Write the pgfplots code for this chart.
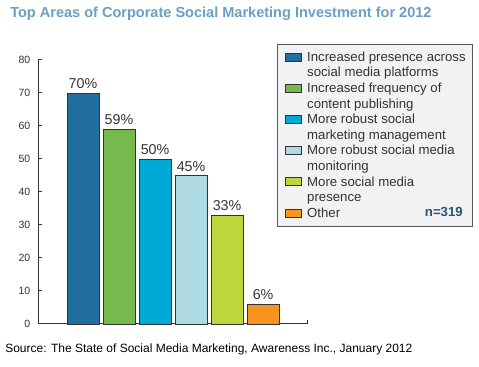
\documentclass[border=0pt]{standalone}
\usepackage{fontspec}
\setmainfont{Liberation Sans}
\usepackage{pgfplots}
\pgfplotsset{compat=1.18}
\definecolor{c1}{RGB}{35,110,160}
\definecolor{c2}{RGB}{120,185,78}
\definecolor{c3}{RGB}{0,170,214}
\definecolor{c4}{RGB}{174,219,227}
\definecolor{c5}{RGB}{190,214,58}
\definecolor{c6}{RGB}{247,148,29}
\definecolor{titleblue}{RGB}{108,158,196}
\definecolor{axgray}{RGB}{51,51,51}
\definecolor{legfill}{RGB}{242,242,244}
\definecolor{legborder}{RGB}{90,90,90}
\definecolor{nblue}{RGB}{43,85,115}
\pgfplotsset{
  mybar/.style={ybar, fill=#1, draw=axgray, line width=0.5pt, bar width=24pt, bar shift=0pt,
    legend image code/.code={\draw[fill=#1, draw=axgray, line width=0.5pt] (0pt,0.3pt) rectangle (12pt,6.3pt); \path (16.5pt,0pt);}},
}
\begin{document}
\begin{tikzpicture}
\useasboundingbox (0,0) rectangle (359.25pt,275.25pt);
\node[anchor=base west, font=\bfseries\fontsize{10.9}{13}\selectfont, text=titleblue, inner sep=0pt] at (7.5pt,262.1pt) {Top Areas of Corporate Social Marketing Investment for 2012};
\begin{axis}[
  at={(28.5pt,32.25pt)}, anchor=south west,
  scale only axis, width=201.75pt, height=198pt,
  xmin=-1.25, xmax=6.22, ymin=0, ymax=80,
  ytick={0,10,...,80}, xtick=\empty,
  axis x line*=bottom, axis y line*=left,
  axis line style={-, draw=axgray, line width=0.75pt},
  tick align=inside, major tick length=3pt,
  tick style={draw=axgray, line width=0.75pt},
  /pgf/number format/assume math mode=true,
  yticklabel style={font=\fontsize{7.9}{9}\selectfont, text=axgray, inner sep=0pt, xshift=-5.6pt},
  nodes near coords={\pgfmathprintnumber{\pgfplotspointmeta}\%},
  nodes near coords style={font=\fontsize{10.7}{12}\selectfont, text=axgray, inner sep=0pt, anchor=south, yshift=3pt, /pgf/number format/assume math mode=true},
  legend style={at={(0.8885,1.0606)}, anchor=north west, fill=legfill, draw=legborder, line width=0.75pt,
    inner xsep=5.25pt, inner ysep=3.9pt, row sep=0pt,
    font=\fontsize{9.9}{11.7}\selectfont,
    nodes={inner sep=0pt, text height=8.7pt, text depth=3pt, text=axgray},
    cells={anchor=base west, inner sep=0pt, text height=8.7pt, text depth=3pt, text=axgray}},
  clip=false,
]
\addplot[mybar=c1] coordinates {(0,70)};
\addlegendentry{Increased presence across}
\addlegendimage{empty legend}\addlegendentry{social media platforms}
\addplot[mybar=c2] coordinates {(1,59)};
\addlegendentry{Increased frequency of}
\addlegendimage{empty legend}\addlegendentry{content publishing}
\addplot[mybar=c3] coordinates {(2,50)};
\addlegendentry{More robust social}
\addlegendimage{empty legend}\addlegendentry{marketing management}
\addplot[mybar=c4] coordinates {(3,45)};
\addlegendentry{More robust social media}
\addlegendimage{empty legend}\addlegendentry{monitoring}
\addplot[mybar=c5] coordinates {(4,33)};
\addlegendentry{More social media}
\addlegendimage{empty legend}\addlegendentry{presence}
\addplot[mybar=c6] coordinates {(5,6)};
\addlegendentry{Other}
\draw[axgray, line width=0.75pt] (rel axis cs:1,0) -- ([yshift=3pt]rel axis cs:1,0);
\end{axis}
\node[anchor=base east, font=\bfseries\fontsize{9.9}{12}\selectfont, text=nblue, inner sep=0pt] at (347.25pt,112.7pt) {n=319};
\node[anchor=base west, font=\fontsize{9}{11}\selectfont, text=black, inner sep=0pt] at (3.75pt,10.5pt) {Source: The State of Social Media Marketing, Awareness Inc., January 2012};
\end{tikzpicture}
\end{document}
